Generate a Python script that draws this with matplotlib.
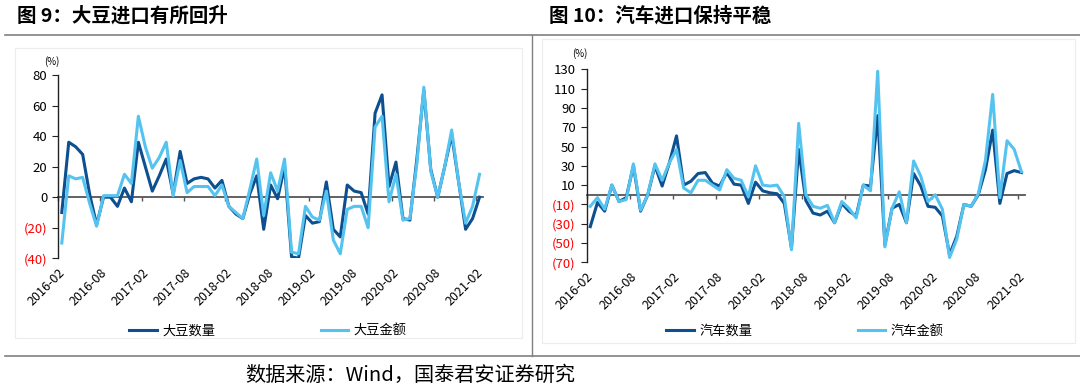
import matplotlib
matplotlib.use("Agg")
import numpy as np
import matplotlib.pyplot as plt
from matplotlib.lines import Line2D
from matplotlib.patches import Rectangle

plt.rcParams['font.family'] = ['Noto Sans CJK SC', 'DejaVu Sans']
plt.rcParams['axes.unicode_minus'] = False

# monthly growth rates (%), 2016-02 .. 2021-02
soy_qty = [-10, 36, 33, 28, 2, -18, 0, 0, -6, 6,
           -3, 36, 20, 4, 14, 25, 2, 30, 9, 12,
           13, 12, 6, 11, -6, -11, -14, 2, 14, -21,
           8, -1, 20, -39, -40, -12, -17, -16, 10, -21,
           -26, 8, 4, 3, -11, 55, 67, 7, 23, -14,
           -15, 25, 70, 18, 0, 20, 41, 10, -21, -14,
           0]
soy_val = [-30, 14, 12, 13, -4, -19, 1, 1, 1, 15,
           9, 53, 33, 19, 26, 36, 1, 24, 3, 7,
           7, 7, 1, 8, -6, -10, -14, 5, 25, -12,
           16, 4, 25, -36, -37, -6, -13, -15, 4, -28,
           -37, -8, -6, -6, -20, 46, 53, -3, 15, -15,
           -14, 22, 72, 17, 0, 20, 44, 10, -17, -6,
           15]
car_qty = [-33, -8, -17, 10, -7, -3, 30, -17, 0, 30,
           9, 33, 61, 10, 14, 22, 23, 12, 9, 23,
           11, 10, -9, 13, 4, 2, 1, -9, -55, 47,
           -6, -19, -21, -17, -29, -9, -17, -22, 10, 9,
           82, -52, -14, -10, -29, 22, 9, -12, -13, -22,
           -62, -43, -10, -12, 0, 26, 67, -9, 22, 25,
           23]
car_val = [-12, -3, -15, 10, -7, -5, 32, -16, 0, 32,
           15, 33, 47, 7, 2, 15, 15, 10, 5, 26,
           17, 15, -2, 30, 10, 9, 10, -2, -57, 74,
           0, -12, -14, -11, -29, -7, -14, -24, 10, 4,
           128, -54, -14, 3, -29, 35, 19, -7, 0, -15,
           -65, -46, -10, -12, 1, 36, 104, -3, 56, 47,
           24]

tick_labels = ['2016-02', '2016-08', '2017-02', '2017-08', '2018-02', '2018-08',
               '2019-02', '2019-08', '2020-02', '2020-08', '2021-02']
soy_yticks = [-40, -20, 0, 20, 40, 60, 80]
car_yticks = [-70, -50, -30, -10, 10, 30, 50, 70, 90, 110, 130]

DARK = '#0d4f8f'
LIGHT = '#55c3f0'
W, H = 1080, 386

fig = plt.figure(figsize=(W / 100, H / 100), dpi=100)


def fx(px):
    return px / W


def fy(py):
    return 1 - py / H


def draw_panel(rect, s1, s2, yticks, names, legend_x, pct_xy):
    ax = fig.add_axes(rect)
    x = np.arange(len(s1)) + 0.5
    ax.plot(x, s1, color=DARK, lw=2.2, solid_joinstyle='round', label=names[0])
    ax.plot(x, s2, color=LIGHT, lw=2.2, solid_joinstyle='round', label=names[1])
    ax.set_xlim(0, len(s1))
    ax.set_ylim(yticks[0], yticks[-1])

    for side in ['top', 'right', 'bottom']:
        ax.spines[side].set_visible(False)
    ax.spines['left'].set_color('#222222')
    ax.spines['left'].set_linewidth(1.0)

    ax.set_yticks(yticks)
    ax.set_yticklabels([f'({-v})' if v < 0 else str(v) for v in yticks])
    for lab, v in zip(ax.get_yticklabels(), yticks):
        lab.set_color('#ff0000' if v < 0 else '#000000')
    ax.tick_params(axis='y', direction='out', length=4, labelsize=9.5, pad=4,
                   color='#222222')

    xt = np.arange(0, len(s1), 6)
    ax.set_xticks(xt)
    ax.set_xticklabels(tick_labels, rotation=45, ha='right', va='top',
                       rotation_mode='anchor', fontsize=9)
    ax.tick_params(axis='x', length=0, pad=6)

    # zero line with its tick marks
    zero = (0 - yticks[0]) / (yticks[-1] - yticks[0])
    sec = ax.secondary_xaxis(zero)
    sec.set_xticks(xt)
    sec.tick_params(axis='x', direction='out', length=3, color='#555555',
                    labelbottom=False, labeltop=False, width=1.0)
    for sp in sec.spines.values():
        sp.set_color('#555555')
        sp.set_linewidth(1.3)

    fig.text(fx(pct_xy[0]), fy(pct_xy[1]), '(%)', fontsize=7,
             ha='center', va='center')

    handles, labels = ax.get_legend_handles_labels()
    fig.legend(handles, labels, loc='center', ncol=2,
               bbox_to_anchor=(fx(legend_x), fy(331)), frameon=False,
               fontsize=9.5, handlelength=2.1, columnspacing=8.0,
               handletextpad=0.4)
    return ax


draw_panel([fx(58.3), fy(258.3), fx(483) - fx(58.3), fy(75) - fy(258.3)],
           soy_qty, soy_val, soy_yticks, ['大豆数量', '大豆金额'], 268, (52, 62))
draw_panel([fx(586.7), fy(262.3), fx(1025) - fx(586.7), fy(69.3) - fy(262.3)],
           car_qty, car_val, car_yticks, ['汽车数量', '汽车金额'], 805, (580, 54))

# titles
fig.text(fx(17), fy(16), '图 9：大豆进口有所回升', fontsize=14, fontweight='bold',
         ha='left', va='center')
fig.text(fx(549), fy(16), '图 10：汽车进口保持平稳', fontsize=14, fontweight='bold',
         ha='left', va='center')

# frame lines
gray = '#808080'
fig.add_artist(Line2D([fx(5), fx(1080)], [fy(35), fy(35)], color=gray, lw=1.2))
fig.add_artist(Line2D([fx(5), fx(1080)], [fy(356), fy(356)], color=gray, lw=1.2))
fig.add_artist(Line2D([fx(532), fx(532)], [fy(35), fy(356)], color=gray, lw=1.0))
fig.add_artist(Rectangle((fx(15), fy(338)), fx(522) - fx(15), fy(48) - fy(338),
                         fill=False, ec='#ececec', lw=0.8))
fig.add_artist(Rectangle((fx(542), fy(343)), fx(1075) - fx(542), fy(39) - fy(343),
                         fill=False, ec='#ececec', lw=0.8))

fig.text(fx(245), fy(375), '数据来源：Wind，国泰君安证券研究', fontsize=14.5,
         ha='left', va='center')

fig.savefig('out.png', dpi=100)
